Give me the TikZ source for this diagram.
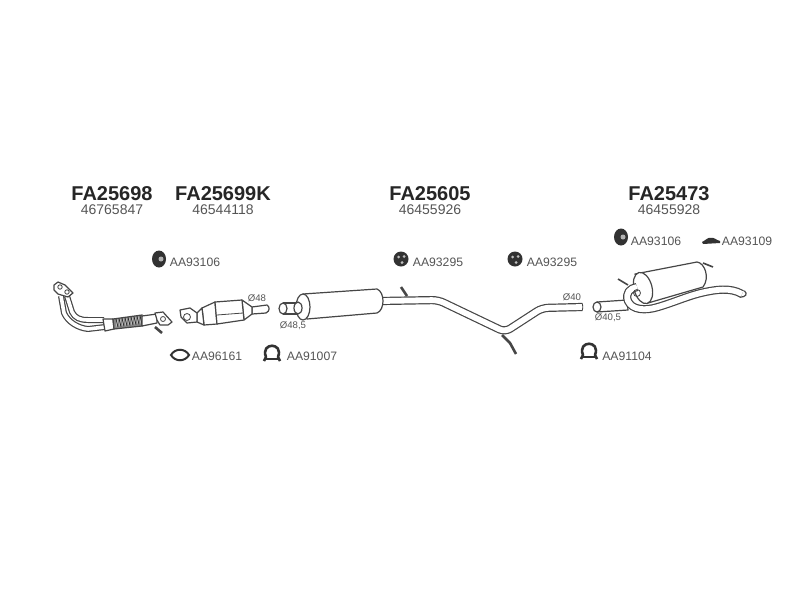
\documentclass[tikz,border=0pt]{standalone}
\usepackage{fontspec}
\setmainfont{Liberation Sans}
\usepackage{color}
\definecolor{partdark}{RGB}{38, 38, 38}
\definecolor{labelgray}{RGB}{85, 85, 85}
\definecolor{linedark}{RGB}{70, 70, 70}
\definecolor{flexgray}{RGB}{135, 135, 135}
\definecolor{rubber}{RGB}{50, 50, 50}
\usetikzlibrary{positioning,shapes,calc}
\tikzstyle{partno} = [font=\fontsize{20}{20}\selectfont\bfseries,text=partdark,inner sep=0pt]
\tikzstyle{oemno} = [font=\fontsize{14}{14}\selectfont,text=labelgray,inner sep=0pt]
\tikzstyle{refno} = [font=\fontsize{12.2}{12.2}\selectfont,text=labelgray,inner sep=0pt]
\tikzstyle{dia} = [font=\fontsize{9.6}{9.6}\selectfont,text=labelgray,inner sep=0pt]
\tikzstyle{outline} = [draw=linedark, fill=white, line width=1.2pt, line join=round]
\tikzstyle{thin_line} = [draw=linedark, line width=0.8pt]
\tikzstyle{pipe} = [draw=linedark, double=white, line width=1.2pt, double distance=5.8pt, line join=round]
\tikzstyle{thin_pipe} = [pipe, double distance=3.6pt]
\tikzstyle{stud} = [draw=linedark, line width=2.6pt]
\tikzstyle{mount} = [circle, fill=rubber, inner sep=0pt, minimum size=15pt]
\begin{document}
\begin{tikzpicture}[x=1pt,y=-1pt,node distance=15.5pt]
      \useasboundingbox[fill=white] (0,0) rectangle (800,600);

      % Part numbers
      \node[partno] (fa1) at (112,194) {FA25698};
      \node[partno] (fa2) at (223,194) {FA25699K};
      \node[partno] (fa3) at (430,194) {FA25605};
      \node[partno] (fa4) at (669,194) {FA25473};
      \node[oemno] (oem1) [below of=fa1] {46765847};
      \node[oemno] (oem2) [below of=fa2] {46544118};
      \node[oemno] (oem3) [below of=fa3] {46455926};
      \node[oemno] (oem4) [below of=fa4] {46455928};

      % Fitting kit labels
      \node[refno] (ref1) at (195,262) {AA93106};
      \node[refno] (ref2) at (217,356) {AA96161};
      \node[refno] (ref3) at (312,356) {AA91007};
      \node[refno] (ref4) at (438,262) {AA93295};
      \node[refno] (ref5) at (552,262) {AA93295};
      \node[refno] (ref6) at (627,356) {AA91104};
      \node[refno] (ref7) at (656,241) {AA93106};
      \node[refno] (ref8) at (747,241) {AA93109};

      % Diameters
      \node[dia] (dia1) at (257,298) {Ø48};
      \node[dia] (dia2) at (293,326) {Ø48,5};
      \node[dia] (dia3) at (572,297) {Ø40};
      \node[dia] (dia4) at (608,318) {Ø40,5};

      % Rubber mounts
      \node[mount, ellipse, minimum width=14pt, minimum height=17pt] (m1) at (159,259) {};
      \node[mount] (m2) at (401,259) {};
      \node[mount] (m3) at (515,259) {};
      \node[mount, ellipse, minimum width=14pt, minimum height=17pt] (m4) at (621,237) {};
      \fill[gray!60] (m1) ++(2,0) circle (2.5);
      \fill[gray!60] (m4) ++(2,0) circle (2.5);
      \foreach \m in {m2,m3} {
        \fill[white!75!black] (\m) ++(-2.5,-2) circle (1.5);
        \fill[white!75!black] (\m) ++(3,-2.5) circle (1.5);
        \fill[white!75!black] (\m) ++(1,3.5) circle (1.5);
      }
      \fill[rubber] (702,242) .. controls (706,240) and (708,237) .. (711,238)
        .. controls (714,237) and (716,240) .. (720,241) -- (720,243) -- (703,244) -- cycle;

      % Gasket
      \draw[draw=rubber, line width=2pt, fill=white] (171,355) .. controls (175,348) and (185,348) .. (189,355)
        .. controls (185,362) and (175,362) .. cycle;

      % Clamps
      \foreach \x/\y in {272/355,589/353} {
        \draw[draw=rubber, line width=2.6pt, line join=round] ($(\x,\y)+(-8,6)$) -- ($(\x,\y)+(-6,2)$)
          .. controls ($(\x,\y)+(-12,-13)$) and ($(\x,\y)+(12,-13)$) .. ($(\x,\y)+(6,2)$) -- ($(\x,\y)+(8,6)$);
        \draw[draw=rubber, line width=2.2pt] ($(\x,\y)+(-8,4)$) -- ($(\x,\y)+(8,4)$);
      }

      % Front pipe
      \draw[thin_pipe] (61,296) -- (64,313) .. controls (68,322) and (78,328) .. (88,329) -- (105,327);
      \draw[thin_pipe] (67,296) -- (72,312) .. controls (75,318) and (80,320) .. (88,320) -- (104,320);
      \draw[outline] (54,285) -- (58,282) -- (65,285) -- (73,293) -- (68,297) -- (58,294) -- (54,290) -- cycle;
      \draw[thin_line] (60,287) circle (2.2) (67,292) circle (2.2);
      \draw[outline] (103,319) -- (113,319) -- (114,329) -- (105,331) -- cycle;
      \draw[draw=linedark, line width=1.2pt, fill=flexgray] (113,319) -- (142,315) -- (142,326) -- (114,329) -- cycle;
      \foreach \i in {0,...,8} {
        \draw[draw=partdark, line width=0.7pt] ({116+3*\i},{319-0.4*\i}) -- ({118+3*\i},{327-0.4*\i});
        \draw[draw=white!80!black, line width=0.5pt] ({118+3*\i},{319-0.4*\i}) -- ({116+3*\i},{327-0.4*\i});
      }
      \draw[outline] (142,316) -- (157,314) -- (157,323) -- (142,326) -- cycle;
      \draw[outline] (155,313) -- (163,312) -- (172,322) -- (168,325) -- (160,325) -- (157,320) -- cycle;
      \draw[thin_line] (163,319) circle (2.5);
      \draw[stud] (155,327) -- (162,333);

      % Catalyst
      \draw[outline] (252,307) -- (267,305) .. controls (270,307) and (270,311) .. (266,313) -- (252,314) -- cycle;
      \draw[outline] (242,300) -- (252,307) -- (252,314) -- (244,320) -- cycle;
      \draw[outline] (202,308) -- (215,302) -- (217,324) -- (204,325) -- cycle;
      \draw[outline] (215,302) -- (242,300) -- (244,320) -- (217,324) -- cycle;
      \draw[thin_line] (217,315) -- (243,313);
      \draw[outline] (197,313) -- (202,308) -- (204,325) -- (197,322) -- cycle;
      \draw[outline] (180,310) -- (190,308) -- (197,313) -- (197,322) -- (187,323) -- (181,317) -- cycle;
      \draw[thin_line] (187,317) circle (3.5);

      % Centre silencer and pipe
      \draw[stud] (502,335) -- (510,343) -- (516,354);
      \draw[pipe, rounded corners=6pt] (381,301) -- (438,300) -- (505,332) -- (542,308) -- (582,307);
      \draw[thin_line] (582,303) .. controls (583,305) and (583,309) .. (582,311);
      \draw[stud] (401,287) -- (407,296);
      \draw[outline] (283,303) -- (297,303) -- (297,314) -- (283,314);
      \draw[outline] (283,308.5) ellipse (4 and 5.5);
      \draw[outline] (303,294) -- (377,289) .. controls (385,292) and (385,310) .. (377,313) -- (307,319) -- cycle;
      \draw[outline] (303,307) ellipse (7 and 13);
      \draw[outline] (298,308) ellipse (4 and 6);

      % Rear silencer and pipe
      \draw[stud, line width=1.6pt] (703,263) -- (713,267);
      \draw[outline] (635,274) -- (697,262) .. controls (705,263) and (710,278) .. (703,287) -- (648,303) -- cycle;
      \draw[stud, line width=1.6pt] (618,279) -- (628,285);
      \draw[outline, rotate around={15:(643,288)}] (643,288) ellipse (9 and 16);
      \draw[outline] (597,302) -- (627,300) -- (628,310) -- (597,312);
      \draw[outline] (597,307) ellipse (4 and 5);
      \draw[pipe] (637,287) .. controls (630,288) and (625,293) .. (628,301)
        .. controls (632,310) and (645,311) .. (658,307)
        .. controls (675,302) and (690,295) .. (705,292)
        .. controls (715,290) and (730,287) .. (742,294);
      \draw[draw=linedark, line width=1.2pt] (744.3,290.7) .. controls (748,294) and (746,297) .. (739.7,297.3);
      \draw[thin_line] (637,293) circle (3.5);
    \end{tikzpicture}
\end{document}
